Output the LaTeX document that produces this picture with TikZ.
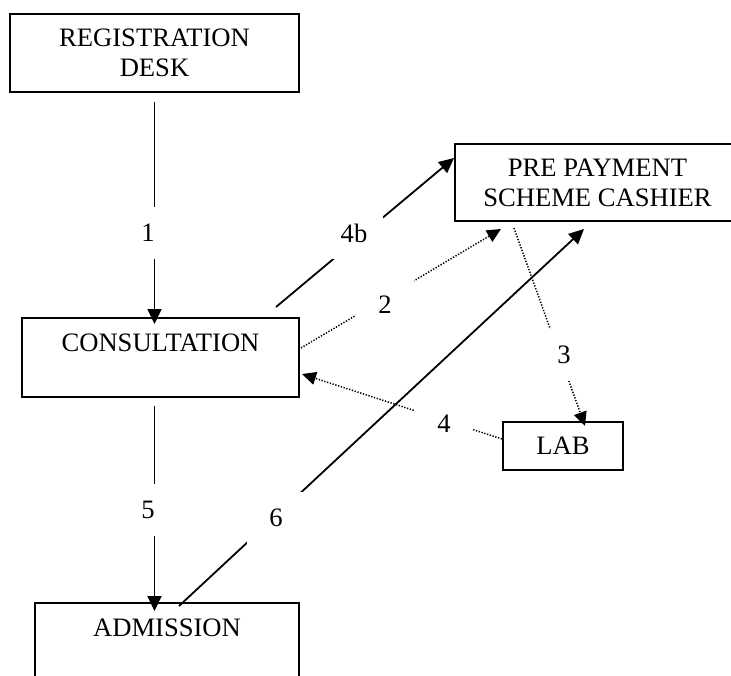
\documentclass[tikz,border=0pt]{standalone}
\usepackage{fontspec}
\setmainfont{Liberation Serif}
\usetikzlibrary{arrows.meta,calc}

\tikzset{
  box/.style={draw,line width=2pt,rectangle,align=center,inner sep=0pt},
  flow/.style={line width=1.8pt,-{Triangle[length=15pt,width=14pt]}},
  dotflow/.style={line width=1.5pt,dash pattern=on 1.3pt off 1.6pt,-{Triangle[length=14pt,width=13pt]}},
  tag/.style={fill=white,minimum width=58pt,minimum height=52pt,inner sep=0pt}
}

\begin{document}
\begin{tikzpicture}[x=1pt,y=-1pt,node font=\fontsize{26.6}{30}\selectfont]
	\useasboundingbox (0,0) rectangle (731,675);
	% boxes
	\node[box,minimum width=289pt,minimum height=78pt] (reg) at (154.5,53) {REGISTRATION\\DESK};
	\node[box,minimum width=285pt,minimum height=77pt] (pre) at (597.5,182.5) {PRE PAYMENT\\SCHEME CASHIER};
	\node[box,minimum width=277pt,minimum height=79pt] (cons) at (160.5,357.5) {CONSULTATION\\~};
	\node[box,minimum width=120pt,minimum height=48pt] (lab) at (563,446) {LAB};
	\node[box,minimum width=264pt,minimum height=79pt] (adm) at (167,642.5) {ADMISSION\\~};
	% solid arrows
	\draw[flow] ($(reg.south)+(0,9)$) -- ($(reg.south |- cons.north)+(0,7)$);
	\draw[flow] ($(reg.south |- cons.south)+(0,8)$) -- ($(reg.south |- adm.north)+(0,9)$);
	\draw[flow] ($(cons.north east)+(-24,-10)$) -- ($(pre.north west)+(0,15)$);
	\draw[flow] ($(adm.north)+(12,4)$) -- ($(pre.south west)+(130,7)$);
	% dotted arrows
	\draw[dotflow] ($(cons.east)+(1,-9.5)$) -- ($(pre.south west)+(47,7)$);
	\draw[dotflow] ($(pre.south west)+(60,6)$) -- ($(lab.north)+(22,5)$);
	\draw[dotflow] ($(lab.west)+(0,-7)$) -- ($(cons.east)+(2,16.5)$);
	% step numbers
	\node[tag] (n1) at (148,233) {1};
	\node[tag] (n4b) at (354,233) {4b};
	\node[tag] (n2) at (385,305) {2};
	\node[tag] (n3) at (564,355) {3};
	\node[tag] (n4) at (444,424) {4};
	\node[tag] (n5) at (148,510) {5};
	\node[tag] (n6) at (276,518) {6};
\end{tikzpicture}
\end{document}
